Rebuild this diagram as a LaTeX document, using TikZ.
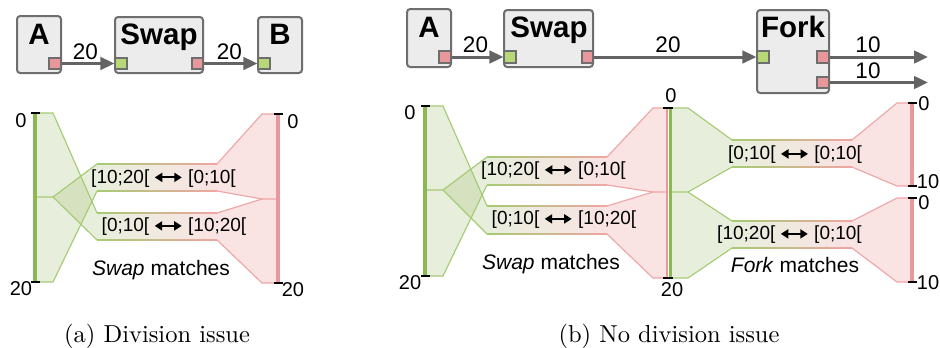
\documentclass[tikz,border=0pt]{standalone}
\usepackage{fontspec}
\newfontfamily\arialf{Liberation Sans}
\usetikzlibrary{arrows.meta}
\definecolor{boxfill}{RGB}{236,236,236}
\definecolor{boxdraw}{RGB}{110,110,110}
\definecolor{portred}{RGB}{232,152,154}
\definecolor{portgreen}{RGB}{184,216,120}
\definecolor{flowgray}{RGB}{100,100,100}
\definecolor{gbar}{RGB}{140,184,84}
\definecolor{pbar}{RGB}{232,152,154}
\definecolor{gbase}{RGB}{150,180,95}
\definecolor{gline}{RGB}{165,203,115}
\definecolor{pfill}{RGB}{249,227,227}
\definecolor{pline}{RGB}{240,165,165}
\colorlet{gfill}{gbase!22!white}
\newcommand{\darr}{\hspace{1.8pt}\tikz[baseline=-0.6ex]\draw[line width=0.75pt,{Triangle[length=3pt,width=3.6pt]}-{Triangle[length=3pt,width=3.6pt]}] (0pt,0pt) -- (10.8pt,0pt);\hspace{2.2pt}}
\newcommand{\pbox}[5]{\node[boxst, minimum width={(#4-#2)*0.4pt}, minimum height={(#5-#3)*0.4pt}] (#1) at ({(#2+#4)/2},{(#3+#5)/2}) {};}
\newcommand{\pport}[6]{\node[portst, fill=#2, minimum width={(#5-#3)*0.4pt}, minimum height={(#6-#4)*0.4pt}] (#1) at ({(#3+#5)/2},{(#4+#6)/2}) {};}
\newcommand{\bandedge}[3]{\shade[left color=gline, right color=pline] (#1,#3-0.6) rectangle (#2,#3+0.6);}
\begin{document}
\begin{tikzpicture}[x=0.4pt,y=-0.4pt,
  boxst/.style={draw=boxdraw, line width=0.8pt, fill=boxfill, rounded corners=1.3pt, inner sep=0pt},
  portst/.style={draw=boxdraw, line width=0.45pt, inner sep=0pt},
  flow/.style={draw=flowgray, line width=1.2pt, -{Triangle[length=5.6pt,width=5pt]}},
  titlest/.style={font=\arialf\bfseries\fontsize{11.8}{13}\selectfont, anchor=base, inner sep=0pt},
  numlbl/.style={font=\arialf\fontsize{9}{10}\selectfont, inner sep=0pt},
  axlbl/.style={font=\arialf\fontsize{8}{9}\selectfont, inner sep=0pt},
  bandlbl/.style={font=\arialf\fontsize{7.6}{9}\selectfont, inner sep=0pt},
  matchlbl/.style={font=\arialf\fontsize{8.4}{10}\selectfont, inner sep=0pt},
  caplbl/.style={font=\fontsize{9.8}{12}\selectfont, anchor=base, inner sep=0pt},
  gfan/.style={fill=gbase, fill opacity=0.22},
  pfan/.style={fill=pfill},
  gstroke/.style={draw=gline, line width=0.45pt},
  pstroke/.style={draw=pline, line width=0.45pt},
  gbarst/.style={draw=gbar, line width=1.6pt},
  pbarst/.style={draw=pbar, line width=1.6pt},
  tick/.style={draw=black, line width=0.8pt}]
\useasboundingbox (0,0) rectangle (940,347);
\fill[white] (0,0) rectangle (940,347);

% ================= (a) top =================
\pbox{aA}{17}{16}{61}{73}
\pbox{aSwap}{115}{17}{203}{73}
\pbox{aB}{258}{17}{302}{73}
\node[titlest] (aAt) at (39,44) {A};
\node[titlest] (aSwapt) at (159,44) {Swap};
\node[titlest] (aBt) at (280,44) {B};
\pport{aAo}{portred}{49}{58}{61}{69}
\pport{aSi}{portgreen}{115}{58}{127}{69}
\pport{aSo}{portred}{192}{58}{203}{69}
\pport{aBi}{portgreen}{258}{58}{270}{69}
\draw[flow] (aAo.east) -- (aSi.west);
\draw[flow] (aSo.east) -- (aBi.west);
\node[numlbl] (al1) at (85.5,52) {20};
\node[numlbl] (al2) at (229.5,52) {20};

% ================= (a) bottom =================
\fill[gfan] (35,113) -- (53,113) -- (97,213) -- (97,240) -- (53,197) -- (35,197) -- cycle;
\fill[gfan] (35,197) -- (53,197) -- (97,164) -- (97,191) -- (53,282) -- (35,282) -- cycle;
\shade[left color=gfill, right color=pfill] (97,164) rectangle (217,191);
\shade[left color=gfill, right color=pfill] (97,213) rectangle (217,240);
\fill[pfan] (217,164) -- (262,114) -- (277,114) -- (277,199) -- (262,199) -- (217,191) -- cycle;
\fill[pfan] (217,213) -- (262,199) -- (277,199) -- (277,283) -- (262,283) -- (217,240) -- cycle;
\draw[gstroke] (35,113) -- (53,113) -- (97,213);
\draw[gstroke] (97,240) -- (53,197) -- (35,197);
\draw[gstroke] (53,197) -- (97,164);
\draw[gstroke] (97,191) -- (53,282) -- (35,282);
\bandedge{97}{217}{164}
\bandedge{97}{217}{191}
\bandedge{97}{217}{213}
\bandedge{97}{217}{240}
\draw[pstroke] (217,164) -- (262,114) -- (277,114);
\draw[pstroke] (217,191) -- (262,199) -- (277,199);
\draw[pstroke] (217,213) -- (262,199);
\draw[pstroke] (217,240) -- (262,283) -- (277,283);
\draw[gbarst] (35,113) -- (35,282);
\draw[pbarst] (278,114) -- (278,283);
\draw[tick] (31,113) -- (40,113);
\draw[tick] (31,282) -- (40,282);
\draw[tick] (274,114) -- (283,114);
\draw[tick] (274,283) -- (283,283);
\node[axlbl] (a0l) at (21,121) {0};
\node[axlbl] (a20l) at (21,289) {20};
\node[axlbl] (a0r) at (293,122) {0};
\node[axlbl] (a20r) at (293,290) {20};
\node[bandlbl] (ab1) at (163.5,178.5) {[10;20[\darr[0;10[};
\node[bandlbl] (ab2) at (174,227) {[0;10[\darr[10;20[};
\node[matchlbl] (am) at (161,270) {\textit{Swap} matches};
\node[caplbl] (acap) at (157,342) {(a) Division issue};

% ================= (b) top =================
\pbox{bA}{407}{9}{451}{67}
\pbox{bSwap}{504}{10}{593}{67}
\pbox{bFork}{757}{10}{829}{93}
\node[titlest] (bAt) at (429,37) {A};
\node[titlest] (bSwapt) at (549,37) {Swap};
\node[titlest] (bForkt) at (793,37) {Fork};
\pport{bAo}{portred}{439}{51}{451}{63}
\pport{bSi}{portgreen}{504}{51}{516}{63}
\pport{bSo}{portred}{582}{51}{593}{63}
\pport{bFi}{portgreen}{757}{51}{769}{63}
\pport{bFo1}{portred}{817}{51}{829}{63}
\pport{bFo2}{portred}{817}{77}{829}{88}
\coordinate (bE1) at (928,57);
\coordinate (bE2) at (928,82.5);
\draw[flow] (bAo.east) -- (bSi.west);
\draw[flow] (bSo.east) -- (bFi.west);
\draw[flow] (bFo1.east) -- (bE1);
\draw[flow] (bFo2.east) -- (bE2);
\node[numlbl] (bl1) at (475.5,45) {20};
\node[numlbl] (bl2) at (668,45) {20};
\node[numlbl] (bl3) at (868,45) {10};
\node[numlbl] (bl4) at (868,71) {10};

% ================= (b) bottom =================
\fill[gfan] (425,106) -- (443,106) -- (487,206) -- (487,234) -- (443,190) -- (425,190) -- cycle;
\fill[gfan] (425,190) -- (443,190) -- (487,157) -- (487,185) -- (443,276) -- (425,276) -- cycle;
\shade[left color=gfill, right color=pfill] (487,157) rectangle (607,185);
\shade[left color=gfill, right color=pfill] (487,206) rectangle (607,234);
\fill[pfan] (607,157) -- (653,108) -- (667,108) -- (667,192) -- (653,192) -- (607,185) -- cycle;
\fill[pfan] (607,206) -- (653,192) -- (667,192) -- (667,278) -- (653,278) -- (607,234) -- cycle;
\fill[gfill] (669,108) -- (688,108) -- (732,140) -- (732,167) -- (688,192) -- (669,192) -- cycle;
\fill[gfill] (669,192) -- (688,192) -- (732,221) -- (732,248) -- (688,278) -- (669,278) -- cycle;
\shade[left color=gfill, right color=pfill] (732,140) rectangle (852,167);
\shade[left color=gfill, right color=pfill] (732,221) rectangle (852,248);
\fill[pfan] (852,140) -- (897,103) -- (912,103) -- (912,186) -- (897,186) -- (852,167) -- cycle;
\fill[pfan] (852,221) -- (897,198) -- (912,198) -- (912,282) -- (897,282) -- (852,248) -- cycle;
\draw[gstroke] (425,106) -- (443,106) -- (487,206);
\draw[gstroke] (487,234) -- (443,190) -- (425,190);
\draw[gstroke] (443,190) -- (487,157);
\draw[gstroke] (487,185) -- (443,276) -- (425,276);
\bandedge{487}{607}{157}
\bandedge{487}{607}{185}
\bandedge{487}{607}{206}
\bandedge{487}{607}{234}
\draw[pstroke] (607,157) -- (653,108) -- (667,108);
\draw[pstroke] (607,185) -- (653,192) -- (667,192);
\draw[pstroke] (607,206) -- (653,192);
\draw[pstroke] (607,234) -- (653,278) -- (667,278);
\draw[gstroke] (669,108) -- (688,108) -- (732,140);
\draw[gstroke] (732,167) -- (688,192) -- (669,192);
\draw[gstroke] (688,192) -- (732,221);
\draw[gstroke] (732,248) -- (688,278) -- (669,278);
\bandedge{732}{852}{140}
\bandedge{732}{852}{167}
\bandedge{732}{852}{221}
\bandedge{732}{852}{248}
\draw[pstroke] (852,140) -- (897,103) -- (912,103);
\draw[pstroke] (852,167) -- (897,186) -- (912,186);
\draw[pstroke] (852,221) -- (897,198) -- (912,198);
\draw[pstroke] (852,248) -- (897,282) -- (912,282);
\draw[gbarst] (425,106) -- (425,276);
\draw[pbar, line width=1pt] (667,108) -- (667,278);
\draw[gbar, line width=1.2pt] (670,108) -- (670,278);
\draw[pbarst] (912,103) -- (912,186);
\draw[pbarst] (912,198) -- (912,282);
\draw[tick] (421,106) -- (430,106);
\draw[tick] (421,276) -- (430,276);
\draw[tick] (663,108) -- (673,108);
\draw[tick] (663,278) -- (673,278);
\draw[tick] (908,103) -- (917,103);
\draw[tick] (908,186) -- (917,186);
\draw[tick] (908,198) -- (917,198);
\draw[tick] (908,282) -- (917,282);
\node[axlbl] (b0l) at (410,113) {0};
\node[axlbl] (b20l) at (410,283) {20};
\node[axlbl] (b0m) at (671,96) {0};
\node[axlbl] (b20m) at (672,290) {20};
\node[axlbl] (b0r1) at (924,104) {0};
\node[axlbl] (b10r1) at (928,182) {10};
\node[axlbl] (b0r2) at (924,203) {0};
\node[axlbl] (b10r2) at (928,283) {10};
\node[bandlbl] (bb1) at (553.5,171) {[10;20[\darr[0;10[};
\node[bandlbl] (bb2) at (564,220) {[0;10[\darr[10;20[};
\node[bandlbl] (bb3) at (795,155) {[0;10[\darr[0;10[};
\node[bandlbl] (bb4) at (789.5,235) {[10;20[\darr[0;10[};
\node[matchlbl] (bm1) at (551,264) {\textit{Swap} matches};
\node[matchlbl] (bm2) at (795,265) {\textit{Fork} matches};
\node[caplbl] (bcap) at (669,342) {(b) No division issue};
\end{tikzpicture}
\end{document}
